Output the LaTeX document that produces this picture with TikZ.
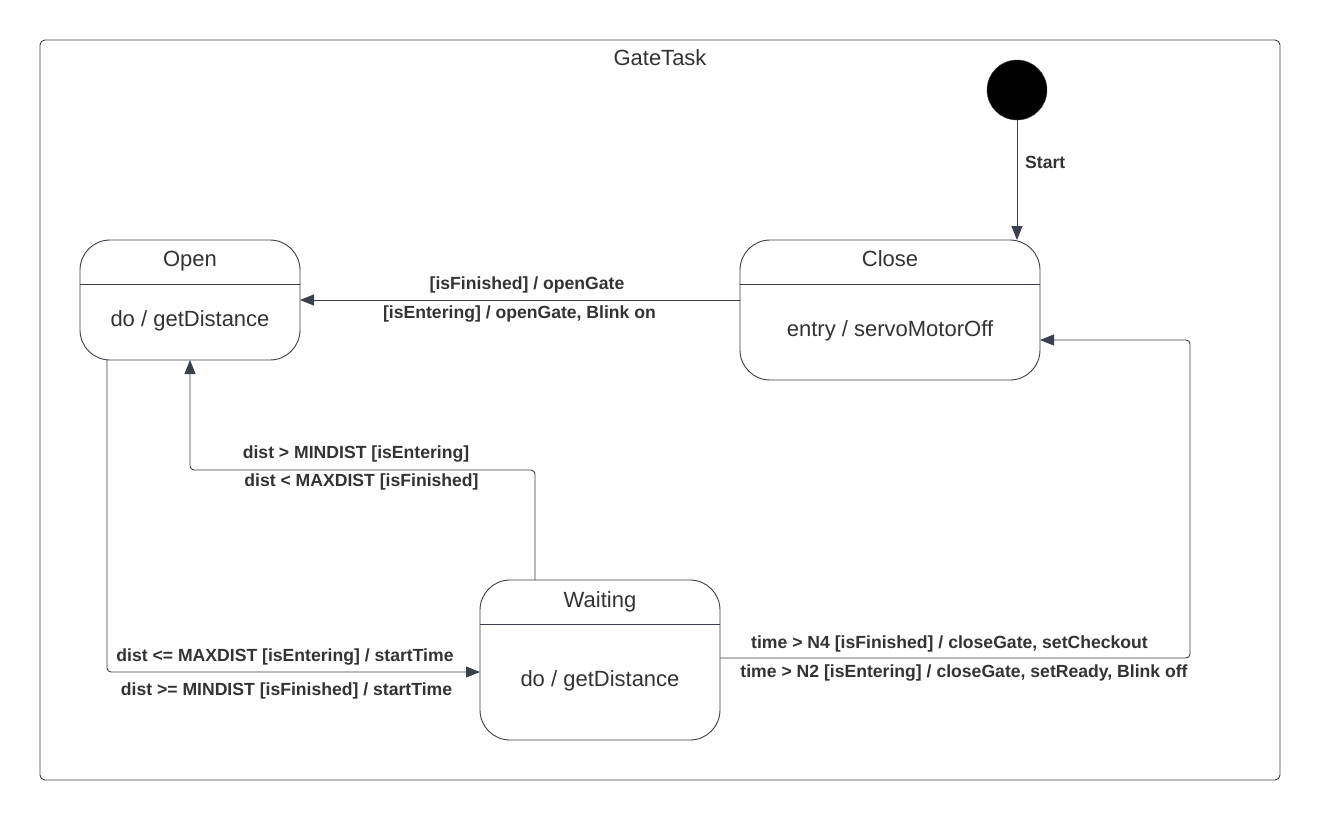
\documentclass[tikz,border=0pt]{standalone}
\usepackage{fontspec}
\setmainfont{Liberation Sans}
\usetikzlibrary{arrows.meta,calc}
\definecolor{ln}{HTML}{3A414A}
\definecolor{tx}{HTML}{333333}
\tikzset{
  x=1pt,y=-1pt,
  statebox/.style={draw=ln,line width=0.9pt,rounded corners=30pt},
  conn/.style={draw=ln,line width=0.9pt,rounded corners=4pt,-{Triangle[length=14pt,width=11pt]}},
  lbl/.style={text=tx,font=\fontsize{17.6}{20}\selectfont\bfseries,inner sep=0pt,anchor=base},
  sname/.style={text=tx,font=\fontsize{22}{26}\selectfont,inner sep=0pt,anchor=base},
}
\begin{document}
\begin{tikzpicture}
\useasboundingbox (0,0) rectangle (1320,820);
\fill[white] (0,0) rectangle (1320,820);
% frame
\draw[ln,line width=0.9pt,rounded corners=5pt] (40,40) rectangle (1280,780);
\node[sname] (title) at (660,65) {GateTask};
% initial
\node[circle,fill=black,draw=ln,minimum size=60pt,inner sep=0pt] (init) at (1017,90) {};
% Open
\draw[statebox] (80,240) rectangle (300,360);
\draw[ln,line width=0.9pt] (80,284) -- (300,284);
\node[sname] (openT) at (190,266) {Open};
\node[sname] (openB) at (190,326) {do / getDistance};
% Close
\draw[statebox] (740,240) rectangle (1040,380);
\draw[ln,line width=0.9pt] (740,284) -- (1040,284);
\node[sname] (closeT) at (890,266) {Close};
\node[sname] (closeB) at (890,336) {entry / servoMotorOff};
% Waiting
\draw[statebox] (480,580) rectangle (720,740);
\draw[ln,line width=0.9pt] (480,624) -- (720,624);
\node[sname] (waitT) at (600,607) {Waiting};
\node[sname] (waitB) at (600,686) {do / getDistance};
% anchors
\coordinate (closeTop) at (1017,240);
\coordinate (closeL) at (740,300);
\coordinate (closeR) at (1040,340);
\coordinate (openR) at (300,300);
\coordinate (openB1) at (107,360);
\coordinate (openB2) at (190,360);
\coordinate (waitTop) at (535,580);
\coordinate (waitL) at (480,672);
\coordinate (waitR) at (720,658);
% connectors
\draw[conn] (init.south) -- (closeTop);
\node[lbl,anchor=base west] at (1025,168) {Start};
\draw[conn] (closeL) -- (openR);
\node[lbl] at (527,289) {[isFinished] / openGate};
\node[lbl] at (519.5,318) {[isEntering] / openGate, Blink on};
\draw[conn] (waitTop) |- (362,470) -| (openB2);
\node[lbl] at (356,458) {dist > MINDIST [isEntering]};
\node[lbl] at (361.5,486) {dist < MAXDIST [isFinished]};
\draw[conn] (openB1) |- (waitL);
\node[lbl] at (285,661) {dist <= MAXDIST [isEntering] / startTime};
\node[lbl] at (286.5,695) {dist >= MINDIST [isFinished] / startTime};
\draw[conn] (waitR) -- (1190,658) -- (1190,340) -- (closeR);
\node[lbl] at (949.5,648) {time > N4 [isFinished] / closeGate, setCheckout};
\node[lbl] at (964,677) {time > N2 [isEntering] / closeGate, setReady, Blink off};
\end{tikzpicture}
\end{document}
